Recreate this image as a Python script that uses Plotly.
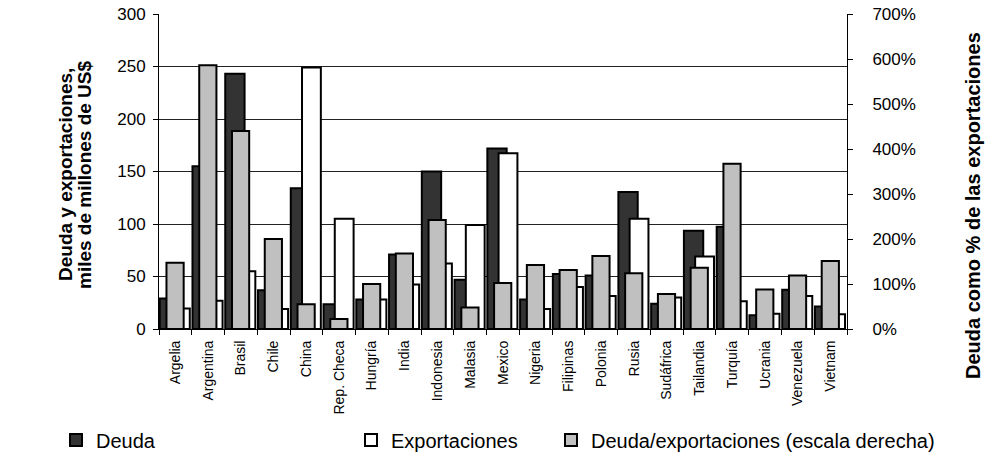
import plotly.graph_objects as go

# Emerging-market debt vs. exports
paises = ["Argelia", "Argentina", "Brasil", "Chile", "China", "Rep. Checa", "Hungría",
          "India", "Indonesia", "Malasia", "Mexico", "Nigeria", "Filipinas", "Polonia",
          "Rusia", "Sudáfrica", "Tailandia", "Turquía", "Ucrania", "Venezuela", "Vietnam"]

# miles de millones de US$
deuda = [29, 155, 243, 37, 134, 23.5, 28, 71, 150, 47, 172, 28, 52.5, 51,
         130.5, 24, 93.5, 97.5, 13, 37.5, 21.5]
exportaciones = [19.5, 27, 55, 19, 249, 105, 28, 42.5, 62.5, 99, 167.5, 19, 40, 31.5,
                 105, 30, 69, 26.5, 14.5, 31.5, 14]
# deuda / exportaciones (escala derecha)
ratio = [1.47, 5.86, 4.40, 2.00, 0.55, 0.22, 1.00, 1.68, 2.42, 0.48, 1.02, 1.42, 1.31, 1.62,
         1.24, 0.78, 1.36, 3.67, 0.88, 1.19, 1.51]

FONT = "Arial, Liberation Sans, sans-serif"
OUTLINE = dict(color="black", width=2)

fig = go.Figure()
fig.add_trace(go.Bar(x=paises, y=deuda, name="Deuda", marker=dict(color="#333333", line=OUTLINE),
                     offset=-0.478, width=0.59, legend="legend"))
fig.add_trace(go.Bar(x=paises, y=exportaciones, name="Exportaciones",
                     marker=dict(color="#ffffff", line=OUTLINE),
                     offset=-0.135, width=0.575, legend="legend2"))
fig.add_trace(go.Bar(x=paises, y=ratio, name="Deuda/exportaciones (escala derecha)",
                     marker=dict(color="#c0c0c0", line=OUTLINE), yaxis="y2",
                     offset=-0.272, width=0.525, legend="legend3"))

L, R, T, B = 159, 140, 14, 130
W, H = 987, 459
pw, ph = W - L - R, H - T - B


def px_x(p):
    return (p - L) / pw


def px_y(p):
    return (H - B - p) / ph


legend_common = dict(orientation="h", yanchor="middle", xanchor="left",
                     font=dict(family=FONT, size=20, color="black"),
                     bgcolor="rgba(0,0,0,0)", itemwidth=30, borderwidth=0)

fig.update_layout(
    width=W, height=H,
    margin=dict(l=L, r=R, t=T, b=B, autoexpand=False),
    paper_bgcolor="white", plot_bgcolor="white",
    barmode="overlay",
    font=dict(family=FONT, color="black"),
    xaxis=dict(type="category", range=[-0.5, 20.5], showline=True, linecolor="black",
               linewidth=1, ticks="outside", tickson="boundaries", ticklen=5,
               tickcolor="black", tickangle=-90, tickfont=dict(size=14, color="black"),
               ticklabelstandoff=5, showgrid=False, automargin=False),
    yaxis=dict(range=[0, 300], dtick=50, showline=True, linecolor="black", linewidth=1,
               ticks="outside", ticklen=5, tickcolor="black", ticklabelstandoff=4,
               tickfont=dict(size=17, color="black"), showgrid=True, gridcolor="#222222",
               gridwidth=1, zeroline=False, automargin=False),
    yaxis2=dict(range=[0, 7], dtick=1, tickformat=".0%", overlaying="y", side="right",
                showline=True, linecolor="black", linewidth=1, ticks="outside", ticklen=5,
                tickcolor="black", ticklabelstandoff=16,
                tickfont=dict(size=17, color="black"), showgrid=False,
                zeroline=False, automargin=False),
    legend=dict(x=px_x(56), y=px_y(440), **legend_common),
    legend2=dict(x=px_x(351), y=px_y(440), **legend_common),
    legend3=dict(x=px_x(551), y=px_y(440), **legend_common),
    showlegend=True,
)

# left axis title, one annotation per line
for text, xpos in [("<b>Deuda y exportaciones,</b>", 65), ("<b>miles de millones de US$</b>", 84)]:
    fig.add_annotation(text=text, xref="paper", yref="paper", x=px_x(xpos), y=px_y(175),
                       textangle=-90, xanchor="center", yanchor="middle", showarrow=False,
                       font=dict(family=FONT, size=19, color="black"))
fig.add_annotation(text="<b>Deuda como % de las exportaciones</b>",
                   xref="paper", yref="paper", x=px_x(973), y=px_y(206), textangle=-90,
                   xanchor="center", yanchor="middle",
                   showarrow=False, font=dict(family=FONT, size=20, color="black"))

fig.write_html("out.html")
